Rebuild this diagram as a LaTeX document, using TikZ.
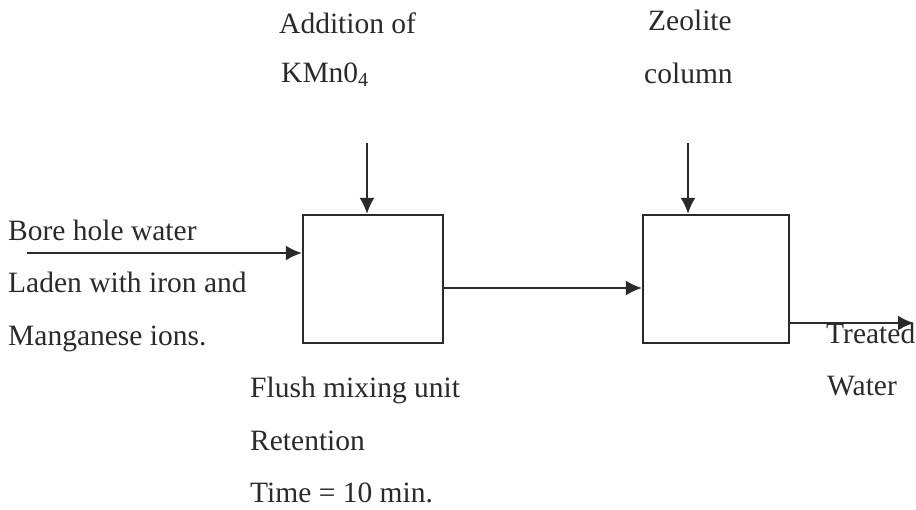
\documentclass[tikz,border=0pt]{standalone}
\usepackage{fontspec}
\setmainfont{Liberation Serif}
\usetikzlibrary{arrows.meta}
\definecolor{ink}{HTML}{2A2A2A}
\begin{document}
\begin{tikzpicture}[x=1pt,y=-1pt,
  lbl/.style={anchor=base west,inner sep=0pt,text=ink,font=\fontsize{29.5}{35}\selectfont},
  unitbox/.style={draw=ink,line width=2.2pt,inner sep=0pt},
  flow/.style={draw=ink,line width=2.2pt,-{Latex[length=16pt,width=15pt]}}]
\useasboundingbox (0,0) rectangle (916,509);
% boxes
\node[unitbox,minimum width=140pt,minimum height=128pt] (b1) at (373,279) {};
\node[unitbox,minimum width=146pt,minimum height=128pt] (b2) at (716,279) {};
% top labels
\node[lbl] (add) at (279,33) {Addition of};
\node[lbl] (kmn) at (281,82) {KMn0\raisebox{-0.3ex}{\fontsize{20}{20}\selectfont 4}};
\node[lbl] (zeo) at (648,30) {Zeolite};
\node[lbl] (col) at (644,83) {column};
% left labels
\node[lbl] (bore) at (8,240) {Bore hole water};
\node[lbl] (laden) at (8,292) {Laden with iron and};
\node[lbl] (mang) at (8,345) {Manganese ions.};
% bottom labels
\node[lbl] (flush) at (250,397) {Flush mixing unit};
\node[lbl] (ret) at (250,450) {Retention};
\node[lbl] (time) at (250,502) {Time = 10 min.};
% right labels
\node[lbl] (treat) at (826,343) {Treated};
\node[lbl] (water) at (827,395) {Water};
% connector ends
\coordinate (in) at (27,253);
\coordinate (d1) at (367,143);
\coordinate (d2) at (688,143);
\coordinate (out) at (914,323);
% arrows
\draw[flow] (in) -- (in -| b1.west);
\draw[flow] (d1) -- (d1 |- b1.north);
\draw[flow] (d2) -- (d2 |- b2.north);
\draw[flow] (b1.east |- 0,288) -- (b2.west |- 0,288);
\draw[flow] (b2.east |- out) -- (out);
\end{tikzpicture}
\end{document}
